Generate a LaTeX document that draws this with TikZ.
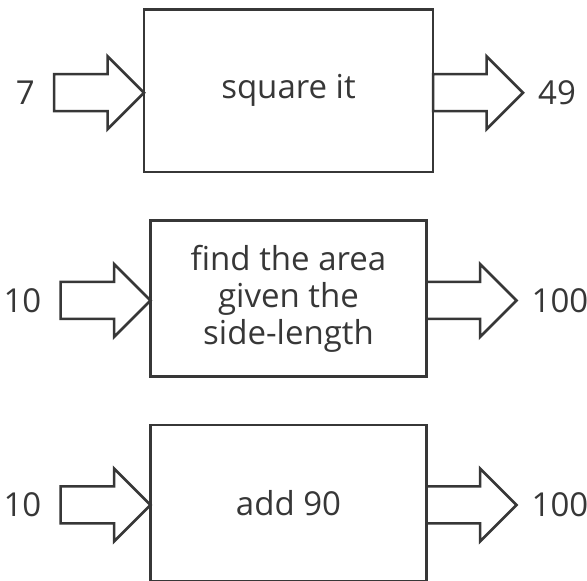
\documentclass[tikz,border=0pt]{standalone}
\usepackage{fontspec}
\setmainfont{Open Sans}
\usepackage{tikz}
\usetikzlibrary{positioning, calc}
\definecolor{inkgray}{RGB}{55,55,55}

\begin{document}
\begin{tikzpicture}[
  x=1pt, y=1pt,
  font=\fontsize{33}{37}\selectfont, text=inkgray,
  func/.style={draw=inkgray, line width=2.5pt, inner sep=0pt, outer sep=0pt,
    align=center, minimum width=276pt, minimum height=156pt},
  num/.style={inner sep=0pt},
  fat/.style={draw=inkgray, line width=2.5pt, line join=miter, to path={
    ($(\tikztostart)+(0,18.5)$) -- ($(\tikztotarget)+(-36.5,18.5)$)
    -- ($(\tikztotarget)+(-36.5,36.5)$) -- (\tikztotarget)
    -- ($(\tikztotarget)+(-36.5,-36.5)$) -- ($(\tikztotarget)+(-36.5,-18.5)$)
    -- ($(\tikztostart)+(0,-18.5)$) -- cycle}}
]
  \clip (0,0) rectangle (587,581);
  \fill[white] (0,0) rectangle (587,581);
  % the three machines
  \node[func, minimum width=289pt, minimum height=162.5pt] (sq) at (288.5,490.25) {square it};
  \node[func, below=48.5pt of sq] (area) {find the area\\given the\\side-length};
  \node[func, below=48.5pt of area] (add) {add 90};
  % inputs and outputs
  \foreach \b/\i/\o [count=\r] in {sq/7/49, area/10/100, add/10/100} {
    \coordinate (tip\r) at ($(\b.west)+(0,-2)$);
    \coordinate (tail\r) at ($(tip\r)+(-90,0)$);
    \coordinate (out\r) at ($(\b.east)+(0,-2)$);
    \coordinate (end\r) at ($(out\r)+(90,0)$);
    \draw[fat] (tail\r) to (tip\r);
    \draw[fat] (out\r) to (end\r);
    \node[num, left=19pt of tail\r] (in\r) {\i};
    \node[num, right=15pt of end\r] (res\r) {\o};
  }
\end{tikzpicture}
\end{document}
